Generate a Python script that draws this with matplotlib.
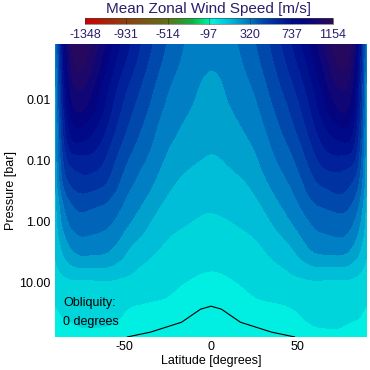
import numpy as np
import matplotlib
matplotlib.use("Agg")
import matplotlib.pyplot as plt
import matplotlib.tri as mtri
from matplotlib.colors import LinearSegmentedColormap, Normalize
from matplotlib.cm import ScalarMappable

plt.rcParams['font.family'] = ['Liberation Sans', 'DejaVu Sans']
plt.rcParams['axes.unicode_minus'] = False

# latitude (deg) for one hemisphere, field is symmetric about the equator
lat_half = [0, 10, 20, 30, 40, 50, 60, 70, 75, 80, 85, 90]
pressure = [0.0012, 0.0032, 0.01, 0.032, 0.1, 0.32, 1.0, 3.2, 10, 32, 80]
# mean zonal wind [m/s], one row per pressure level, one column per lat_half
wind_half = [
    [262, 287, 350, 440, 560, 700, 879, 1079, 1150, 1096, 779, 195],
    [237, 262, 320, 403, 512, 637, 804, 1004, 1070, 1021, 720, 187],
    [207, 237, 278, 353, 453, 562, 720, 896, 950, 912, 654, 170],
    [177, 197, 241, 303, 395, 495, 637, 762, 800, 779, 570, 153],
    [145, 159, 189, 255, 333, 420, 545, 620, 620, 604, 479, 145],
    [102, 114, 136, 192, 266, 345, 445, 487, 495, 462, 370, 128],
    [56, 67, 86, 122, 191, 264, 339, 362, 370, 345, 262, 103],
    [10, 19, 36, 63, 102, 165, 237, 252, 253, 224, 162, 70],
    [-26, -20, -5, 15, 31, 49, 61, 57, 57, 57, 45, 20],
    [-51, -47, -35, -30, -26, -14, -1, 3, 1, -5, -9, -22],
    [-72, -68, -59, -51, -47, -39, -30, -30, -30, -30, -34, -47],
]

# black curve near the bottom
line_lat = [-50, -48, -35, -17, -6, 0, 6, 17, 35, 48, 50]
line_p = [86, 80, 67, 46, 28, 25, 28, 46, 67, 80, 86]

cbar_min, cbar_max = -1348, 1154
cbar_ticks = [-1348, -931, -514, -97, 320, 737, 1154]

cmap = LinearSegmentedColormap.from_list('wind', [
    (0.0, '#cc0000'), (0.167, '#8c4010'), (0.333, '#607018'),
    (0.43, '#10b040'), (0.48, '#00e080'), (0.517, '#00f0e2'),
    (0.55, '#00d4dc'), (0.583, '#00bed8'), (0.617, '#00a0cc'),
    (0.65, '#0080c4'), (0.683, '#0064b8'), (0.717, '#0048ac'),
    (0.75, '#0034a2'), (0.783, '#00229a'), (0.817, '#001490'),
    (0.85, '#000a88'), (0.883, '#040480'), (0.917, '#100676'),
    (0.95, '#1c086a'), (1.0, '#2a0a58')])
norm = Normalize(cbar_min, cbar_max)
levels = np.linspace(cbar_min, cbar_max, 31)

w = np.array(wind_half, dtype=float)
lat = np.concatenate([-np.array(lat_half[:0:-1]), lat_half])
wind = np.hstack([w[:, :0:-1], w])
logp = np.log10(pressure)

LAT, LP = np.meshgrid(lat, logp)
tri = mtri.Triangulation(LAT.ravel(), LP.ravel())
refiner = mtri.UniformTriRefiner(tri)
tri_f, wind_f = refiner.refine_field(wind.ravel(), subdiv=3)

fig = plt.figure(figsize=(3.7, 3.7), dpi=100)
ax = fig.add_axes([55/370, 33/370, 312/370, 293/370])
ax.tricontourf(tri_f, wind_f, levels=levels, cmap=cmap, norm=norm, extend='both')
ax.plot(line_lat, np.log10(line_p), color='black', lw=0.8)

ax.set_xlim(-90, 90)
ax.set_ylim(np.log10(80.5), np.log10(0.0012))
ax.set_xticks([-50, 0, 50])
ax.set_yticks([-2, -1, 0, 1])
ax.set_yticklabels(['0.01', '0.10', '1.00', '10.00'])
ax.tick_params(length=0, pad=3, labelsize=9)
for s in ax.spines.values():
    s.set_visible(False)
ax.set_xlabel('Latitude [degrees]', fontsize=9, labelpad=1)
ax.set_ylabel('Pressure [bar]', fontsize=9, labelpad=2)

ax.text(0.026, 0.116, 'Obliquity:', transform=ax.transAxes, fontsize=9, va='center')
ax.text(0.026, 0.051, '0 degrees', transform=ax.transAxes, fontsize=9, va='center')

cax = fig.add_axes([85/370, 1 - 24/370, 248/370, 6/370])
cb = fig.colorbar(ScalarMappable(norm=norm, cmap=cmap), cax=cax,
                  orientation='horizontal', ticks=cbar_ticks)
cb.outline.set_linewidth(0.4)
cb.outline.set_edgecolor('#444444')
cax.tick_params(length=4.3, width=0.6, direction='in', color=(0, 0, 0, 0.35),
                labelsize=9, labelcolor='#2a1f6a', pad=3.5)
fig.text(208/370, 1 - 9/370, 'Mean Zonal Wind Speed [m/s]', ha='center', va='center',
         fontsize=11, color='#2a1f6a')

fig.savefig('out.png', dpi=100)
